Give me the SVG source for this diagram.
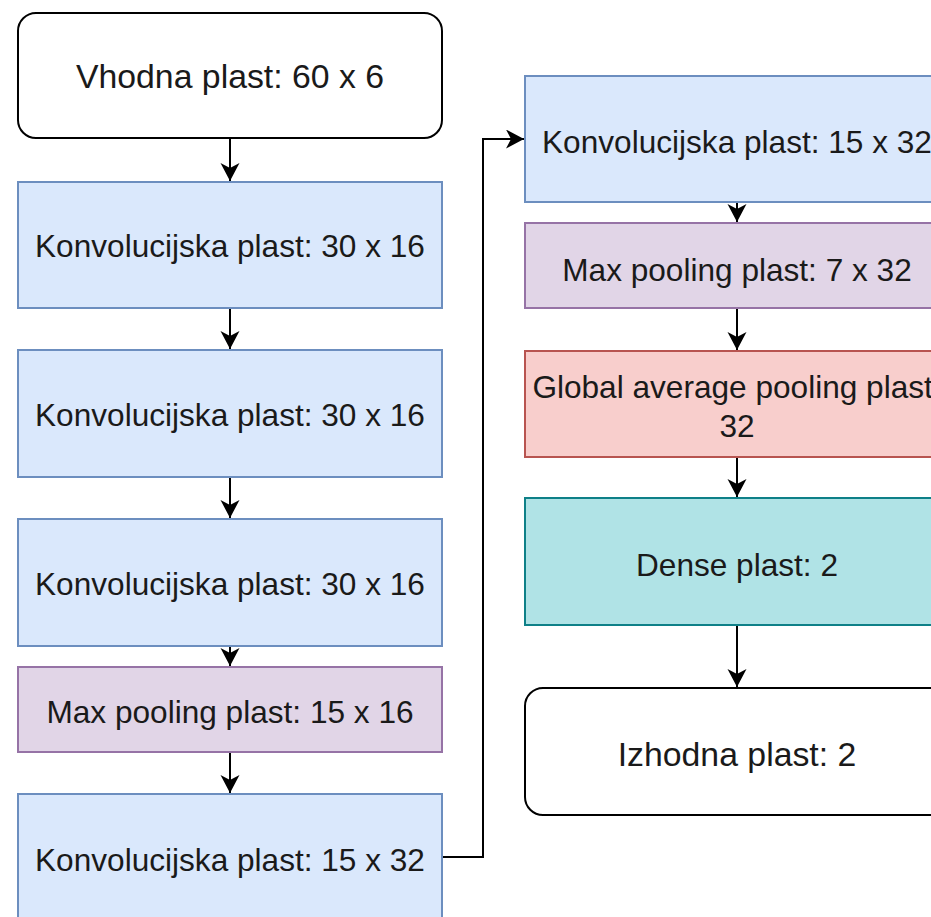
<svg xmlns="http://www.w3.org/2000/svg" width="931" height="917" viewBox="0 0 931 917">
<style>
rect{stroke-width:2}
.io{fill:#ffffff;stroke:#000000}
.conv{fill:#dae8fc;stroke:#6c8ebf}
.pool{fill:#e1d5e7;stroke:#9673a6}
.gap{fill:#f8cecc;stroke:#b85450}
.dense{fill:#b0e3e6;stroke:#0e8088}
text{font-family:"Liberation Sans",Arial,sans-serif;font-size:31.6px;fill:#1a1a1a;text-anchor:middle}
text.big{font-size:33.8px}
.edge{fill:none;stroke:#000000;stroke-width:2;marker-end:url(#arr)}
</style>
<defs>
<marker id="arr" markerUnits="userSpaceOnUse" markerWidth="20" markerHeight="20" refX="18" refY="9.5" orient="auto">
<path d="M0,0 L18,9.5 L0,19 L5,9.5 Z" fill="#000000"/>
</marker>
</defs>
<rect width="931" height="917" fill="#ffffff"/>
<g id="connectors">
<path class="edge" d="M230,139 V181"/>
<path class="edge" d="M230,308 V349"/>
<path class="edge" d="M230,477 V518"/>
<path class="edge" d="M230,646 V666"/>
<path class="edge" d="M230,752 V793"/>
<path class="edge" d="M442,857 H483 V139 H524"/>
<path class="edge" d="M737,202 V222"/>
<path class="edge" d="M737,308 V350"/>
<path class="edge" d="M737,457 V497"/>
<path class="edge" d="M737,625 V687"/>
</g>
<g id="n1"><rect class="io" x="18" y="13" width="424" height="125" rx="18"/><text class="big" x="230" y="88">Vhodna plast: 60 x 6</text></g>
<g id="n2"><rect class="conv" x="18" y="182" width="424" height="126"/><text x="230" y="257">Konvolucijska plast: 30 x 16</text></g>
<g id="n3"><rect class="conv" x="18" y="350" width="424" height="127"/><text x="230" y="426">Konvolucijska plast: 30 x 16</text></g>
<g id="n4"><rect class="conv" x="18" y="519" width="424" height="127"/><text x="230" y="595">Konvolucijska plast: 30 x 16</text></g>
<g id="n5"><rect class="pool" x="18" y="667" width="424" height="85"/><text x="230" y="723">Max pooling plast: 15 x 16</text></g>
<g id="n6"><rect class="conv" x="18" y="794" width="424" height="126"/><text x="230" y="871">Konvolucijska plast: 15 x 32</text></g>
<g id="n7"><rect class="conv" x="525" y="76" width="424" height="126"/><text x="737" y="153">Konvolucijska plast: 15 x 32</text></g>
<g id="n8"><rect class="pool" x="525" y="223" width="424" height="85"/><text x="737" y="281">Max pooling plast: 7 x 32</text></g>
<g id="n9"><rect class="gap" x="525" y="351" width="424" height="106"/><text x="737" y="398">Global average pooling plast:</text><text x="737" y="437">32</text></g>
<g id="n10"><rect class="dense" x="525" y="498" width="424" height="127"/><text x="737" y="576">Dense plast: 2</text></g>
<g id="n11"><rect class="io" x="525" y="688" width="424" height="127" rx="18"/><text class="big" x="737" y="766">Izhodna plast: 2</text></g>
</svg>
